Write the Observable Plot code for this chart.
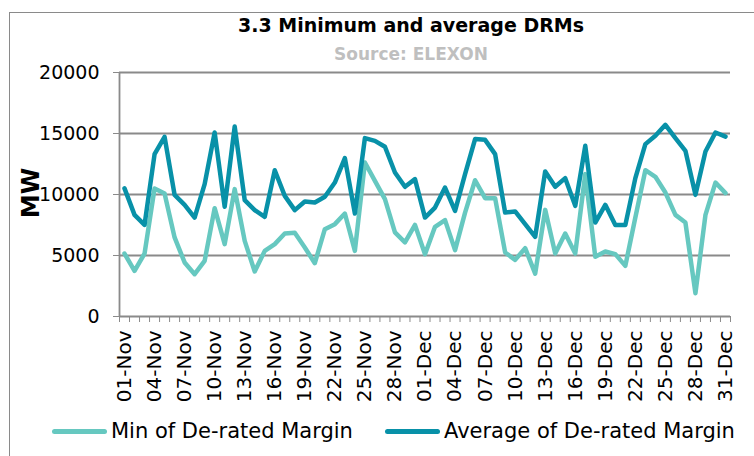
<!DOCTYPE html>
<html>
<head>
<meta charset="utf-8">
<script src="https://cdn.jsdelivr.net/npm/d3@7"></script>
<script src="https://cdn.jsdelivr.net/npm/@observablehq/plot@0.6"></script>
<style>
  html, body { margin: 0; padding: 0; background: #fff; }
  #wrap { position: relative; width: 754px; height: 456px; overflow: hidden; font-family: "DejaVu Sans", Verdana, sans-serif; }
  #frame { position: absolute; left: 9px; top: 12px; width: 800px; height: 500px; border: 1.5px solid #8a8a8a; box-sizing: border-box; }
  #title { position: absolute; left: 0; width: 822px; top: 16px; text-align: center; font-weight: bold; font-size: 19px; line-height: 19px; color: #000; }
  #subtitle { position: absolute; left: 0; width: 822px; top: 46px; text-align: center; font-weight: bold; font-size: 17px; line-height: 17px; color: #bfbfbf; }
  #ylabel { position: absolute; left: 31px; top: 193px; transform: translate(-50%, -50%) rotate(-90deg); font-weight: bold; font-size: 24px; line-height: 24px; color: #000; }
  #chart { position: absolute; left: 0; top: 62px; }
  #legend { position: absolute; left: 0; top: 419px; height: 24px; font-size: 21px; line-height: 24px; color: #000; }
  .item { position: absolute; top: 0; white-space: nowrap; }
  .sw { position: absolute; top: 10px; height: 5px; width: 55px; border-radius: 3px; }
</style>
</head>
<body>
<div id="wrap">
  <div id="frame"></div>
  <div id="title">3.3 Minimum and average DRMs</div>
  <div id="subtitle">Source: ELEXON</div>
  <div id="ylabel">MW</div>
  <div id="chart"></div>
  <div id="legend"></div>
</div>
<script>
const days = [
  "01-Nov","02-Nov","03-Nov","04-Nov","05-Nov","06-Nov","07-Nov","08-Nov","09-Nov","10-Nov",
  "11-Nov","12-Nov","13-Nov","14-Nov","15-Nov","16-Nov","17-Nov","18-Nov","19-Nov","20-Nov",
  "21-Nov","22-Nov","23-Nov","24-Nov","25-Nov","26-Nov","27-Nov","28-Nov","29-Nov","30-Nov",
  "01-Dec","02-Dec","03-Dec","04-Dec","05-Dec","06-Dec","07-Dec","08-Dec","09-Dec","10-Dec",
  "11-Dec","12-Dec","13-Dec","14-Dec","15-Dec","16-Dec","17-Dec","18-Dec","19-Dec","20-Dec",
  "21-Dec","22-Dec","23-Dec","24-Dec","25-Dec","26-Dec","27-Dec","28-Dec","29-Dec","30-Dec","31-Dec"
];
const minMargin = [
  5160, 3740, 5160, 10490, 10080, 6480, 4430, 3470, 4560, 8880,
  5930, 10440, 6200, 3690, 5380, 5930, 6800, 6860, 5660, 4370,
  7160, 7570, 8440, 5380, 12620, 11120, 9620, 6890, 6070, 7510,
  5110, 7350, 7900, 5440, 8520, 11170, 9700, 9700, 5250, 4640,
  5600, 3520, 8740, 5160, 6800, 5160, 11670, 4890, 5330, 5110,
  4150, 8110, 11990, 11450, 10160, 8330, 7700, 1910, 8330, 10980, 10110
];
const avgMargin = [
  10500, 8330, 7510, 13300, 14730, 9970, 9150, 8110, 10850, 15080,
  8990, 15570, 9540, 8720, 8170, 11990, 9890, 8720, 9430, 9340,
  9810, 10980, 12980, 8440, 14620, 14400, 13910, 11800, 10630, 11260,
  8110, 8930, 10570, 8660, 11670, 14540, 14480, 13310, 8520, 8610,
  7570, 6530, 11890, 10630, 11340, 9070, 13990, 7700, 9150, 7490,
  7490, 11340, 14130, 14810, 15710, 14620, 13580, 9970, 13520, 15080, 14750
];
const seriesNames = ["Min of De-rated Margin", "Average of De-rated Margin"];
const seriesColors = ["#66c8c0", "#0891a8"];
const yTicks = [0, 5000, 10000, 15000, 20000];
const labelEvery = 3;

const rows = [];
days.forEach((d, i) => {
  rows.push({i, day: d, series: seriesNames[0], value: minMargin[i]});
  rows.push({i, day: d, series: seriesNames[1], value: avgMargin[i]});
});
const n = days.length;
const boundaries = d3.range(n + 1).map(k => k - 0.5);
const labelIdx = d3.range(0, n, labelEvery);

const plot = Plot.plot({
  width: 754,
  height: 355,
  marginLeft: 119,
  marginRight: 24,
  marginTop: 10,
  marginBottom: 101,
  style: {fontFamily: "DejaVu Sans, Verdana, sans-serif", fontSize: "18px", color: "#000", background: "transparent"},
  x: {type: "linear", domain: [-0.5, n - 0.5]},
  y: {domain: [0, 20000]},
  color: {domain: seriesNames, range: seriesColors},
  marks: [
    Plot.gridY(yTicks.filter(t => t > 0), {stroke: "#8a8a8a", strokeOpacity: 1, strokeWidth: 1.8}),
    Plot.axisY({ticks: yTicks, tickFormat: d => String(d), tickSize: 6, tickPadding: 14, label: null, stroke: "#8a8a8a", fontSize: 19, fill: "#000"}),
    Plot.axisX({ticks: boundaries, tickFormat: () => "", tickSize: 6, label: null, stroke: "#8a8a8a"}),
    Plot.axisX({ticks: labelIdx, tickFormat: i => days[i], tickSize: 0, tickPadding: 14, tickRotate: -90, label: null, fontSize: 20, fill: "#000"}),
    Plot.ruleY([0], {stroke: "#8a8a8a", strokeWidth: 1.8}),
    Plot.ruleX([-0.5], {stroke: "#8a8a8a", strokeWidth: 1.8}),
    Plot.line(rows, {x: "i", y: "value", stroke: "series", z: "series", strokeWidth: 4.5, strokeLinejoin: "round", strokeLinecap: "round"})
  ]
});
document.getElementById("chart").appendChild(plot);

const legend = document.getElementById("legend");
const legendPos = [{sw: 52, tx: 111}, {sw: 385, tx: 444}];
seriesNames.forEach((name, k) => {
  const sw = document.createElement("div");
  sw.className = "sw";
  sw.style.left = legendPos[k].sw + "px";
  sw.style.background = seriesColors[k];
  legend.appendChild(sw);
  const t = document.createElement("div");
  t.className = "item";
  t.style.left = legendPos[k].tx + "px";
  t.textContent = name;
  legend.appendChild(t);
});
</script>
</body>
</html>
